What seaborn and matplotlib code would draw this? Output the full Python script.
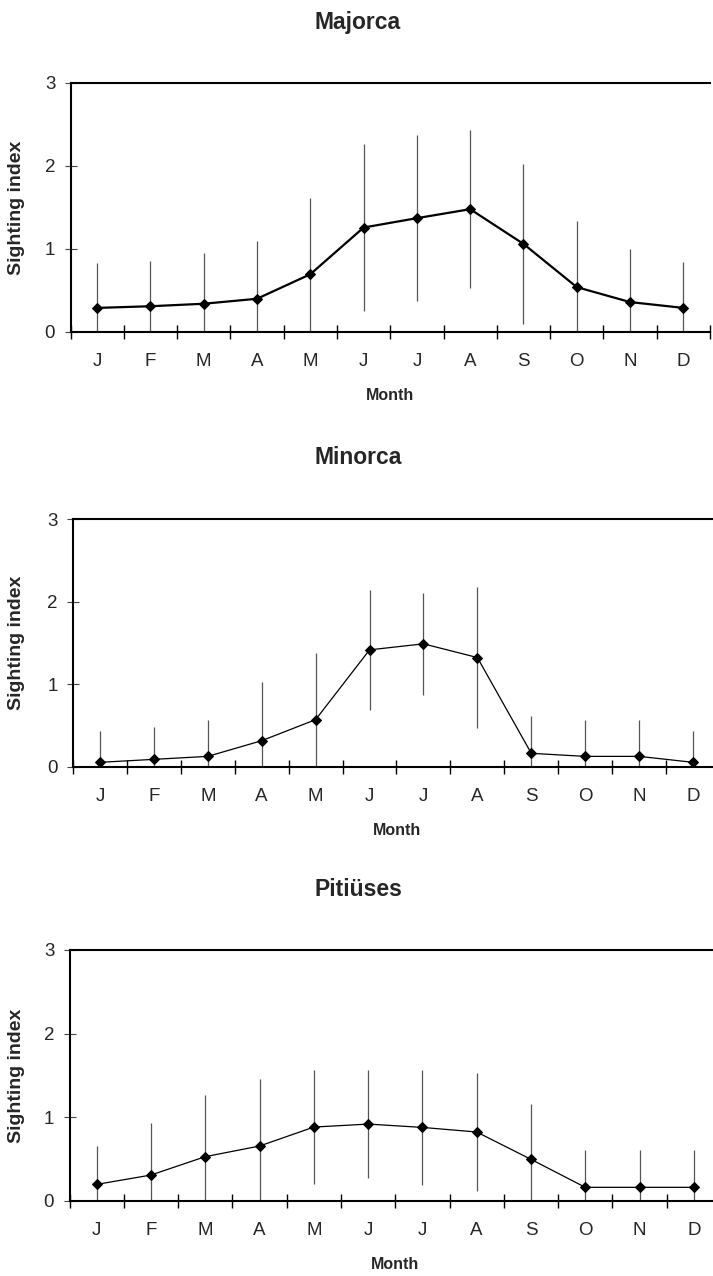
import numpy as np
import pandas as pd
import matplotlib
matplotlib.use("Agg")
import matplotlib.pyplot as plt
from matplotlib.ticker import FixedLocator, NullFormatter, FixedFormatter
import seaborn as sns

months = ["J", "F", "M", "A", "M", "J", "J", "A", "S", "O", "N", "D"]

majorca_mean = [0.29, 0.31, 0.34, 0.40, 0.695, 1.257, 1.37, 1.478, 1.06, 0.54, 0.36, 0.29]
majorca_sd = [0.545, 0.545, 0.61, 0.69, 0.915, 1.0, 1.0, 0.95, 0.96, 0.80, 0.64, 0.55]

minorca_mean = [0.053, 0.089, 0.125, 0.315, 0.57, 1.415, 1.488, 1.322, 0.162, 0.125, 0.125, 0.053]
minorca_sd = [0.384, 0.396, 0.437, 0.712, 0.813, 0.73, 0.62, 0.85, 0.457, 0.44, 0.44, 0.384]

pitiuses_mean = [0.195, 0.307, 0.527, 0.654, 0.881, 0.917, 0.877, 0.822, 0.495, 0.16, 0.16, 0.16]
pitiuses_sd = [0.463, 0.626, 0.741, 0.798, 0.687, 0.651, 0.691, 0.706, 0.666, 0.442, 0.442, 0.442]

titles = ["Majorca", "Minorca", "Pitiüses"]
yticks = [0, 1, 2, 3]

sns.set_theme(style="white")
plt.rcParams["font.family"] = ["Liberation Sans", "DejaVu Sans"]

W, H = 713, 1276
fig = plt.figure(figsize=(W / 100, H / 100), dpi=100)

# pixel layout: (left, right, top, bottom, title_y, line width)
layouts = [
    (70.5, 710.0, 82.7, 332.0, 22, 1.6),
    (73.0, 720.0, 519.0, 766.7, 457, 0.9),
    (69.5, 721.0, 950.0, 1200.7, 889, 0.9),
]

series = [(majorca_mean, majorca_sd), (minorca_mean, minorca_sd), (pitiuses_mean, pitiuses_sd)]

for (mean, sd), title, (l, r, t, b, ty, lw) in zip(series, titles, layouts):
    ax = fig.add_axes([l / W, 1 - b / H, (r - l) / W, (b - t) / H])
    x = np.arange(len(months))
    df = pd.DataFrame({"x": x, "mean": mean, "sd": sd})
    ax.errorbar(df["x"], df["mean"], yerr=df["sd"], fmt="none",
                ecolor="#555555", elinewidth=0.9, capsize=0, zorder=2)
    sns.lineplot(data=df, x="x", y="mean", ax=ax, color="black", lw=lw,
                 marker="D", markersize=5, markeredgecolor="black",
                 markerfacecolor="black", zorder=3)
    ax.set_xlim(-0.5, 11.5)
    ax.set_ylim(0, 3)
    # major ticks at month boundaries, labels at month centres
    ax.xaxis.set_major_locator(FixedLocator(np.arange(-0.5, 12.0, 1.0)))
    ax.xaxis.set_major_formatter(NullFormatter())
    ax.xaxis.set_minor_locator(FixedLocator(x))
    ax.xaxis.set_minor_formatter(FixedFormatter(months))
    ax.tick_params(axis="x", which="major", direction="inout", length=10,
                   width=1.0, color="black", bottom=True)
    ax.tick_params(axis="x", which="minor", length=0, pad=15, labelsize=13.5,
                   bottom=True)
    ax.set_yticks(yticks)
    ax.set_yticklabels([str(v) for v in yticks])
    ax.tick_params(axis="y", direction="inout", length=8, width=0.8,
                   color="#444444", labelsize=13.5, pad=7, left=True)
    for s in ["left", "bottom", "top"]:
        ax.spines[s].set_visible(True)
        ax.spines[s].set_color("black")
        ax.spines[s].set_linewidth(1.5)
    ax.spines["right"].set_visible(False)
    ax.set_xlabel("Month", fontsize=11.5, fontweight="bold")
    ax.set_ylabel("Sighting index", fontsize=14, fontweight="bold")
    ax.xaxis.set_label_coords(0.5, -56 / (b - t))
    ax.yaxis.set_label_coords((25 - l) / (r - l), 0.5)
    ax.grid(False)
    fig.text(358 / W, 1 - ty / H, title, ha="center", va="center",
             fontsize=16.5, fontweight="bold")

fig.savefig("out.png", dpi=100)
